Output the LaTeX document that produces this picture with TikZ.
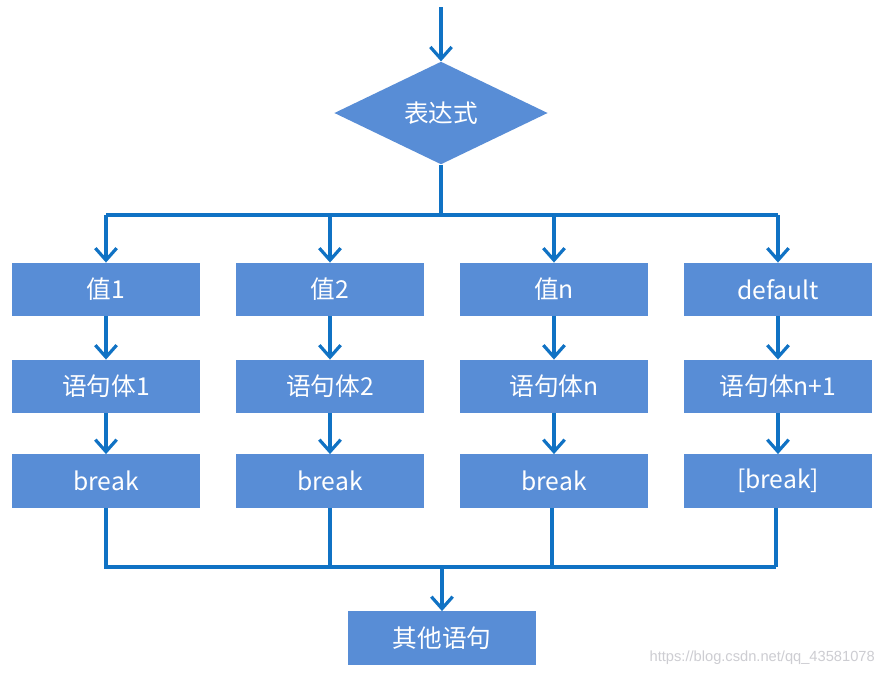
\documentclass[tikz,border=0pt]{standalone}
\usepackage{fontspec}
\setmainfont{Noto Sans CJK SC}
\newfontfamily\wmfont{Liberation Sans}
\usetikzlibrary{shapes.geometric,arrows.meta}
\definecolor{lineblue}{RGB}{16,114,196}
\definecolor{boxblue}{RGB}{88,141,214}
\definecolor{wmgray}{RGB}{205,205,210}
\begin{document}
\begin{tikzpicture}[x=0.75pt,y=-0.75pt,
  conn/.style={draw=lineblue,line width=2.4pt},
  arr/.style={conn,-{Straight Barb[length=9pt,width=16pt,line width=2.4pt]}},
  box/.style={rectangle,fill=boxblue,text=white,minimum width=141pt,minimum height=40pt,inner sep=0pt,font=\fontsize{18.5}{22}\selectfont},
  dia/.style={diamond,fill=boxblue,text=white,minimum width=160pt,minimum height=77pt,aspect=2.07,inner sep=0pt,font=\fontsize{18.5}{22}\selectfont}]
\fill[white] (0,0) rectangle (885,676);
\useasboundingbox (0,0) rectangle (885,676);
% top
\coordinate (start) at (441,7);
\node[dia] (expr) at (441,113) {表达式};
\draw[arr] (start) -- (expr.north);
% columns
\node[box] (v1) at (106,289.5) {值1};
\node[box] (v2) at (330,289.5) {值2};
\node[box] (v3) at (554,289.5) {值n};
\node[box] (v4) at (778,289.5) {default};
\node[box] (s1) at (106,386.5) {语句体1};
\node[box] (s2) at (330,386.5) {语句体2};
\node[box] (s3) at (554,386.5) {语句体n};
\node[box] (s4) at (778,386.5) {语句体n+1};
\node[box] (b1) at (106,481) {break};
\node[box] (b2) at (330,481) {break};
\node[box] (b3) at (554,481) {break};
\node[box] (b4) at (778,481) {[break]};
\node[box] (other) at (442,638) {其他语句};
% top bus
\coordinate (tb) at (441,215);
\coordinate (tb1) at (106,215);
\coordinate (tb2) at (330,215);
\coordinate (tb3) at (554,215);
\coordinate (tb4) at (778,215);
\draw[conn] (expr.south) -- (tb);
\draw[conn] (tb1) -- (tb4);
\foreach \i in {1,2,3,4} {
  \draw[arr] (tb\i) -- (v\i.north);
  \draw[arr] (v\i.south) -- (s\i.north);
  \draw[arr] (s\i.south) -- (b\i.north);
}
% bottom bus
\coordinate (bb1) at (106,567);
\coordinate (bb2) at (330,567);
\coordinate (bb3) at (552,567);
\coordinate (bb4) at (776,567);
\coordinate (bb) at (442,567);
\draw[conn] (b1.south) -- (bb1) -- (bb4);
\draw[conn] (b2.south) -- (bb2);
\draw[conn] (b3.south -| bb3) -- (bb3);
\draw[conn] (b4.south -| bb4) -- (bb4);
\draw[arr] (bb) -- (other.north);
\node[text=wmgray,font=\wmfont\fontsize{11}{13}\selectfont,anchor=east,inner sep=0pt] (wm) at (875,658) {https://blog.csdn.net/qq\_43581078};
\end{tikzpicture}
\end{document}
